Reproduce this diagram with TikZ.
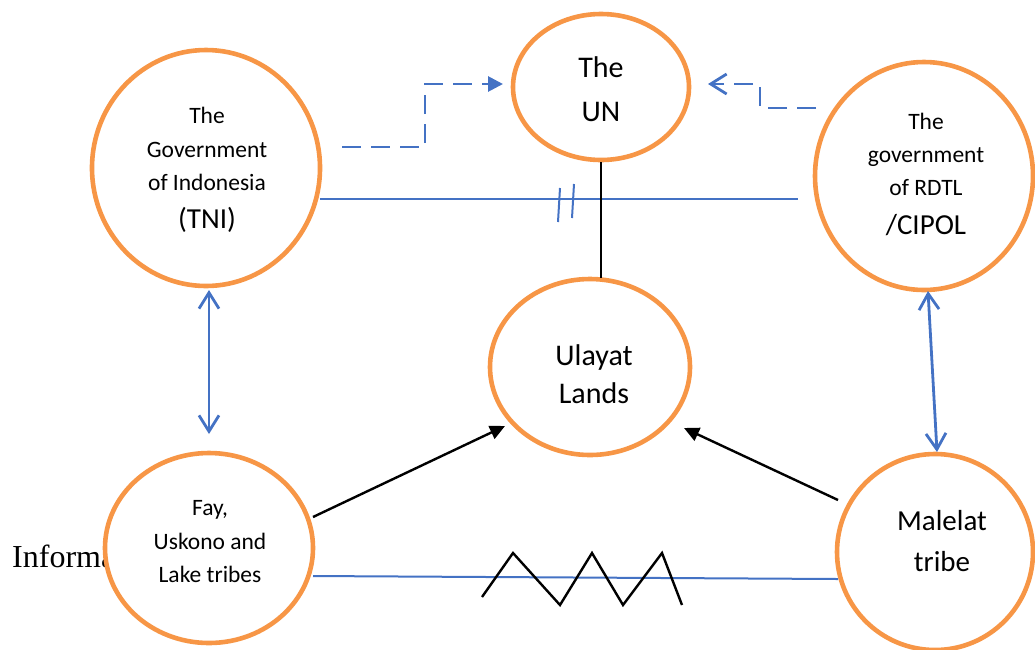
\documentclass[tikz,border=0pt]{standalone}
\usepackage{fontspec}
\setmainfont{Carlito}
\newfontfamily\timesf{Liberation Serif}
\usetikzlibrary{arrows.meta,shapes.geometric}
\definecolor{orng}{HTML}{F79646}
\definecolor{blu}{HTML}{4472C4}
\tikzset{
 circ/.style={ellipse, draw=orng, line width=4.6pt, fill=white, inner sep=0pt},
 txt/.style={align=center, inner sep=0pt},
 bl/.style={draw=blu, line width=2pt},
 dsh/.style={draw=blu, line width=2.8pt, dash pattern=on 19pt off 10pt, -{Triangle[length=15pt,width=15pt]}},
 dshopen/.style={draw=blu, line width=2.8pt, dash pattern=on 19pt off 10pt, -{Straight Barb[length=16pt,width=20pt]}},
 dbl/.style={draw=blu, line width=2.8pt, {Straight Barb[length=16pt,width=20pt]}-{Straight Barb[length=16pt,width=20pt]}},
 blk/.style={draw=black, line width=2.4pt},
 blkarr/.style={blk, -{Triangle[length=15pt,width=14pt]}},
}
\begin{document}
\begin{tikzpicture}[x=1pt,y=-1pt]
\useasboundingbox (0,0) rectangle (1035,649);
% partially hidden text
\node[anchor=base west, inner sep=0pt, font=\timesf\fontsize{32}{38}\selectfont] (inf) at (12,567) {Informa};
% circles
\node[circ, minimum width=176pt, minimum height=146pt] (un) at (601,87) {};
\node[circ, minimum width=228pt, minimum height=236pt] (gov) at (206,168) {};
\node[circ, minimum width=218pt, minimum height=228pt] (rdtl) at (924,176) {};
\node[circ, minimum width=200pt, minimum height=176pt] (ul) at (590,367) {};
\node[circ, minimum width=208pt, minimum height=190pt] (fay) at (209,548) {};
\node[circ, minimum width=196pt, minimum height=196pt] (mal) at (935,552) {};
% texts
\node[txt, font=\fontsize{30}{44}\selectfont] (untxt) at (601,89) {The\\UN};
\node[txt, font=\fontsize{23.5}{33.5}\selectfont] (govtxt) at (207,170) {The\\Government\\of Indonesia\\[4pt]{\fontsize{29}{37}\selectfont (TNI)}};
\node[txt, font=\fontsize{23.5}{33}\selectfont] (rdtltxt) at (926,174) {The\\government\\of RDTL\\[6pt]{\fontsize{29}{37}\selectfont /CIPOL}};
\node[txt, font=\fontsize{30}{38}\selectfont] (ultxt) at (594,374) {Ulayat\\Lands};
\node[txt, font=\fontsize{23.5}{33.5}\selectfont] (faytxt) at (210,542) {Fay,\\Uskono and\\Lake tribes};
\node[txt, font=\fontsize{29}{41}\selectfont] (maltxt) at (942,541) {Malelat\\tribe};
% coordinates
\coordinate (d1s) at (342,147);
\coordinate (d1e) at (503,84);
\coordinate (d2s) at (816,108);
\coordinate (d2e) at (708,84);
\coordinate (h1) at (320,199);
\coordinate (h2) at (798,199);
\coordinate (v1) at (601,278);
\coordinate (a1) at (209,290);
\coordinate (a2) at (209,434);
\coordinate (b1) at (928,291);
\coordinate (b2) at (937,452);
\coordinate (k1) at (313,517);
\coordinate (k2) at (505,426);
\coordinate (m1) at (838,500);
\coordinate (m2) at (684,428);
\coordinate (g1) at (313,576);
\coordinate (g2) at (838,579);
% connectors
\draw[dsh] (d1s) -- (425,147) -- (425,84) -- (d1e);
\draw[dshopen] (d2s) -- (760,108) -- (760,84) -- (d2e);
\draw[bl] (h1) -- (h2);
\draw[blu, line width=2pt] (560,188) -- (558,222) (574,184) -- (572,218);
\draw[blk] (un.south) -- (v1);
\draw[dbl] (a1) -- (a2);
\draw[dbl] (b1) -- (b2);
\draw[blkarr] (k1) -- (k2);
\draw[blkarr] (m1) -- (m2);
\draw[bl] (g1) -- (g2);
\draw[blk, line join=miter] (482,597) -- (513,553) -- (560,605) -- (592,553) -- (623,605) -- (662,553) -- (682,605);
\end{tikzpicture}
\end{document}
